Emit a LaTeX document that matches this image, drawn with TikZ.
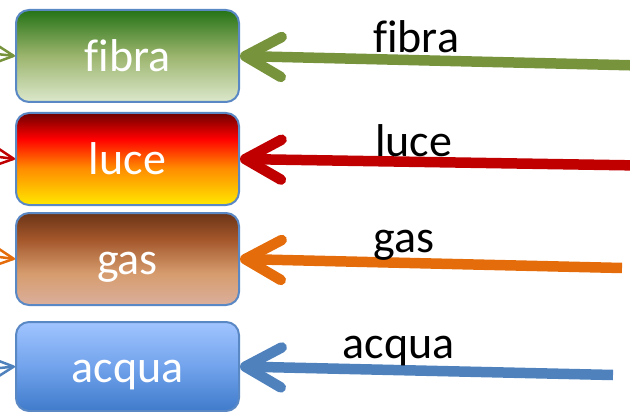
\documentclass[tikz,border=0pt]{standalone}
\usepackage{fontspec}
\setmainfont{Carlito}[Ligatures=NoCommon]
\usetikzlibrary{arrows.meta}
\definecolor{boxborder}{HTML}{5A88C4}
\definecolor{cfib}{HTML}{77933C}
\definecolor{cluc}{HTML}{C00000}
\definecolor{cgas}{HTML}{E46C0A}
\definecolor{cacq}{HTML}{4F81BD}
% shading colours
\definecolor{fA}{HTML}{DCE8CC}\definecolor{fB}{HTML}{9CB56E}\definecolor{fC}{HTML}{257316}
\definecolor{lA}{HTML}{FFE800}\definecolor{lB}{HTML}{FF8C00}\definecolor{lC}{HTML}{FF0000}\definecolor{lD}{HTML}{6E0000}
\definecolor{gA}{HTML}{DBAF9C}\definecolor{gB}{HTML}{D69C6E}\definecolor{gC}{HTML}{A3562A}\definecolor{gD}{HTML}{6B3418}
\definecolor{aA}{HTML}{3F7BCB}\definecolor{aB}{HTML}{72A3EC}\definecolor{aC}{HTML}{A0C4FF}
\pgfdeclareverticalshading{fibshade}{100bp}{color(0bp)=(fA); color(25bp)=(fA); color(50bp)=(fB); color(75bp)=(fC); color(100bp)=(fC)}
\pgfdeclareverticalshading{lucshade}{100bp}{color(0bp)=(lA); color(25bp)=(lA); color(45bp)=(lB); color(61bp)=(lC); color(75bp)=(lD); color(100bp)=(lD)}
\pgfdeclareverticalshading{gasshade}{100bp}{color(0bp)=(gA); color(25bp)=(gA); color(42bp)=(gB); color(61bp)=(gC); color(75bp)=(gD); color(100bp)=(gD)}
\pgfdeclareverticalshading{acqshade}{100bp}{color(0bp)=(aA); color(25bp)=(aA); color(50bp)=(aB); color(75bp)=(aC); color(100bp)=(aC)}
\tikzset{
  svc/.style={draw=boxborder, line width=2pt, rounded corners=13pt,
    minimum width=223pt, minimum height=92pt, inner sep=0pt,
    text height=40pt, text depth=9pt,
    text=white, font=\fontsize{46}{50}\selectfont},
  lbl/.style={anchor=base west, inner sep=0pt, text=black, font=\fontsize{46}{50}\selectfont},
  bigarrow/.style={line width=10.5pt, -{Straight Barb[length=36pt, width=40pt, round]}},
  smallarrow/.style={line width=2.5pt, -{Straight Barb[length=18pt, width=18pt, round]}}
}
\begin{document}
\begin{tikzpicture}[x=1pt, y=-1pt]
\useasboundingbox (0,0) rectangle (630,412);
\clip (0,0) rectangle (630,412);
% boxes
\node[svc, shading=fibshade] (fibra) at (127.5,56) {fibra};
\node[svc, shading=lucshade] (luce) at (127.5,159) {luce};
\node[svc, shading=gasshade] (gas) at (127.5,259) {gas};
\node[svc, shading=acqshade, minimum height=89pt] (acqua) at (127.5,366.5) {acqua};
% free ends
\coordinate (fR) at (640,65.5);
\coordinate (lR) at (640,165.5);
\coordinate (gR) at (622,268);
\coordinate (aR) at (613,375);
\coordinate (fL) at (-40,50);
\coordinate (lL) at (-40,152);
\coordinate (gL) at (-40,252);
\coordinate (aL) at (-40,372);
% arrows from right
\draw[bigarrow, cfib] (fR) -- (fibra.east);
\draw[bigarrow, cluc] (lR) -- (luce.east);
\draw[bigarrow, cgas] (gR) -- (gas.east);
\draw[bigarrow, cacq] (aR) -- (acqua.east);
% arrows from left (mostly outside)
\draw[smallarrow, cfib] (fL) -- (fibra.west);
\draw[smallarrow, cluc] (lL) -- (luce.west);
\draw[smallarrow, cgas] (gL) -- (gas.west);
\draw[smallarrow, cacq] (aL) -- (acqua.west);
% labels
\node[lbl] (tf) at (373,53) {fibra};
\node[lbl] (tl) at (375,157) {luce};
\node[lbl] (tg) at (373,252.5) {gas};
\node[lbl] (ta) at (342.5,358) {acqua};
\end{tikzpicture}
\end{document}
